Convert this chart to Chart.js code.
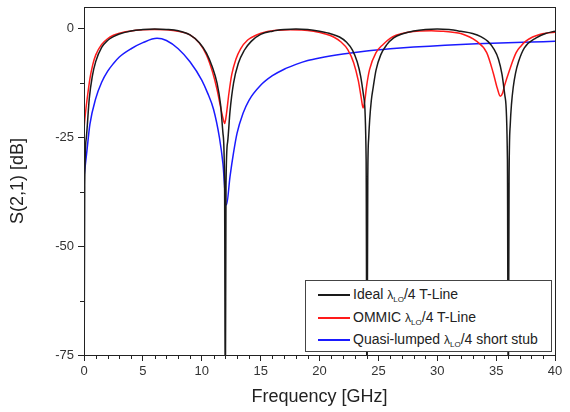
<!DOCTYPE html>
<html>
<head>
<meta charset="utf-8">
<script src="https://cdn.jsdelivr.net/npm/chart.js@4.4.0/dist/chart.umd.min.js"></script>
<style>
body { margin: 0; background: #fff; }
#wrap { position: relative; width: 570px; height: 412px; }
#legend { position: absolute; left: 305px; top: 280px; width: 245px; height: 70px; border: 1px solid #444; background: #fff;
  font: 14px "Liberation Sans", Arial, sans-serif; color: #222; }
.row { position: absolute; left: 12px; height: 16px; line-height: 16px; white-space: nowrap; }
.swatch { display: inline-block; width: 32px; height: 2px; vertical-align: middle; margin-right: 3px; }
.lam { font-size: 12px; }
sub { font-size: 8px; vertical-align: -3px; }
</style>
</head>
<body>
<div id="wrap">
  <canvas id="chart" width="570" height="412"></canvas>
  <div id="legend"></div>
</div>
<script>
// S21
const freqIdeal = [0, 0.06, 0.2, 0.45, 0.7, 1.0, 1.5, 2.0, 2.5, 3.0, 4.0, 5.0, 6.0, 7.0, 8.0, 9.0, 9.8, 10.4, 10.9, 11.3, 11.6, 11.8, 11.94, 12.0, 12.06, 12.2, 12.4, 12.7, 13.1, 13.6, 14.2, 15.0, 16.0, 17.0, 18.0, 19.0, 20.0, 21.0, 21.7, 22.3, 22.8, 23.2, 23.5, 23.75, 23.96, 24.03, 24.1, 24.18, 24.26, 24.4, 24.57, 24.8, 25.2, 25.7, 26.3, 27.0, 28.0, 29.0, 30.0, 31.0, 32.0, 33.0, 33.7, 34.3, 34.8, 35.2, 35.5, 35.75, 35.96, 36.03, 36.1, 36.2, 36.3, 36.45, 36.65, 36.9, 37.4, 38.4, 39.2, 40.0];
const s21Ideal = [-90, -36, -25, -16, -11, -7.5, -4.3, -2.7, -1.8, -1.2, -0.5, -0.2, -0.05, -0.15, -0.45, -1.4, -3.2, -5.6, -8.8, -12.5, -17.5, -24, -36, -90, -36, -26, -19, -12.5, -8, -5, -2.9, -1.3, -0.55, -0.2, -0.05, -0.2, -0.6, -1.2, -1.9, -3.1, -4.9, -7.6, -11, -15.5, -30, -90, -34, -25, -21, -16.5, -13.3, -9.5, -6, -3.7, -2.1, -1.2, -0.5, -0.15, -0.05, -0.2, -0.6, -1.1, -1.8, -2.9, -4.6, -7, -10.5, -15.5, -30, -90, -34, -22, -17.5, -13.5, -10.2, -7.6, -4.4, -2.1, -1.1, -0.55];

const freqOmmic = [0, 0.1, 0.25, 0.5, 0.75, 1.0, 1.5, 2.0, 2.5, 3.0, 4.0, 5.0, 6.0, 7.0, 8.0, 9.0, 9.8, 10.4, 10.9, 11.3, 11.6, 11.8, 11.95, 12.1, 12.3, 12.55, 12.9, 13.3, 13.9, 14.6, 15.5, 16.5, 17.5, 18.5, 19.5, 20.5, 21.2, 21.8, 22.4, 22.9, 23.3, 23.55, 23.7, 23.85, 24.0, 24.25, 24.8, 25.4, 26.0, 26.5, 27.5, 28.5, 29.5, 30.5, 31.3, 32.0, 33.3, 34.2, 34.75, 35.1, 35.35, 35.55, 35.7, 36.15, 36.7, 37.1, 37.55, 38.1, 38.7, 39.3, 40.0];
const s21Ommic = [-23, -20, -16.5, -11.5, -8.2, -6, -3.6, -2.3, -1.5, -1.0, -0.5, -0.25, -0.15, -0.25, -0.6, -1.4, -3.3, -6, -9.8, -14, -18, -20.5, -21.8, -19.5, -15, -10.5, -7, -4.6, -2.6, -1.5, -0.7, -0.35, -0.25, -0.3, -0.6, -1.2, -1.9, -3.0, -4.8, -7.8, -12, -16, -18.2, -16.5, -13.2, -9.4, -5.5, -3.6, -2.2, -1.5, -0.8, -0.5, -0.45, -0.6, -0.8, -1.1, -2.8, -5.5, -10.1, -13.7, -15.5, -14.8, -13.2, -9.4, -5.5, -4, -2.8, -1.9, -1.3, -1, -0.8];

const freqStub = [0, 0.25, 0.5, 1.0, 1.5, 2.0, 2.5, 3.0, 4.0, 5.0, 6.2, 7.0, 8.0, 9.0, 10.0, 10.5, 11.0, 11.5, 11.8, 12.1, 12.4, 12.7, 13.0, 13.5, 14.0, 15.0, 16.0, 17.0, 18.0, 19.0, 20.0, 22.0, 24.0, 26.0, 28.0, 30.0, 32.0, 34.0, 36.0, 38.0, 40.0];
const s21Stub = [-34, -28, -22, -16, -12.3, -9.8, -8, -6.5, -4.6, -3.2, -2.2, -2.7, -4.6, -7.6, -11.8, -14.8, -18.5, -25, -31, -40.5, -34, -28.5, -24, -19.5, -16.5, -13, -10.8, -9.3, -8.2, -7.3, -6.7, -5.8, -5.1, -4.6, -4.2, -3.9, -3.6, -3.4, -3.2, -3.05, -2.9];

const seriesLabels = ['Ideal', 'OMMIC', 'Quasi-lumped'];
const seriesSuffix = ['/4 T-Line', '/4 T-Line', '/4 short stub'];
const seriesColors = ['#1a1a1a', '#ff1a1a', '#1a1aff'];

const xTicks = [0, 5, 10, 15, 20, 25, 30, 35, 40];
const yTicks = [0, -25, -50, -75];
const xMinorStep = 1;
const yMinorStep = 12.5;

function toPoints(xs, ys) {
    return xs.map((x, i) => ({ x: x, y: ys[i] }));
}

// frame on top/right plus short minor ticks
const framePlugin = {
    id: 'frame',
    afterDraw(chart) {
        const { ctx, chartArea: a, scales } = chart;
        ctx.save();
        ctx.strokeStyle = '#222';
        ctx.lineWidth = 1;
        ctx.strokeRect(a.left + 0.5, a.top + 0.5, a.right - a.left, a.bottom - a.top);
        ctx.beginPath();
        for (let v = scales.x.min; v <= scales.x.max; v += xMinorStep) {
            if (xTicks.includes(v)) continue;
            const px = Math.round(scales.x.getPixelForValue(v)) + 0.5;
            ctx.moveTo(px, a.bottom);
            ctx.lineTo(px, a.bottom + 4);
        }
        for (let v = -75; v <= 0; v += yMinorStep) {
            if (yTicks.includes(v)) continue;
            const py = Math.round(scales.y.getPixelForValue(v)) + 0.5;
            ctx.moveTo(a.left, py);
            ctx.lineTo(a.left - 4, py);
        }
        ctx.stroke();
        ctx.restore();
    }
};

const datasets = [
    { data: toPoints(freqIdeal, s21Ideal) },
    { data: toPoints(freqOmmic, s21Ommic) },
    { data: toPoints(freqStub, s21Stub) }
].map((d, i) => Object.assign(d, {
    label: seriesLabels[i],
    borderColor: seriesColors[i],
    borderWidth: 1.5,
    pointRadius: 0,
    fill: false,
    cubicInterpolationMode: 'monotone'
}));

const tickFont = { family: '"Liberation Sans", Arial, sans-serif', size: 13 };
const titleFont = { family: '"Liberation Sans", Arial, sans-serif', size: 18 };

new Chart(document.getElementById('chart').getContext('2d'), {
    type: 'line',
    data: { datasets: datasets },
    options: {
        responsive: false,
        animation: false,
        layout: { padding: { top: 0, right: 15, left: 0, bottom: 0 } },
        plugins: { legend: { display: false }, tooltip: { enabled: false } },
        scales: {
            x: {
                type: 'linear', min: 0, max: 40,
                afterBuildTicks: s => { s.ticks = xTicks.map(v => ({ value: v })); },
                afterFit: s => { s.height = 57; },
                grid: { drawOnChartArea: false, tickLength: 6, color: '#222' },
                border: { color: '#222' },
                ticks: { font: tickFont, color: '#333', padding: 3, maxRotation: 0 },
                title: { display: true, text: 'Frequency [GHz]', font: titleFont, color: '#222', padding: { top: 0, bottom: 4 } }
            },
            y: {
                type: 'linear', min: -75, max: 5,
                afterBuildTicks: s => { s.ticks = yTicks.map(v => ({ value: v })); },
                afterFit: s => { s.width = 84; s.paddingTop = 7; },
                grid: { drawOnChartArea: false, tickLength: 6, color: '#222' },
                border: { color: '#222' },
                ticks: { font: tickFont, color: '#333', padding: 4 },
                title: { display: true, text: 'S(2,1) [dB]', font: titleFont, color: '#222', padding: { top: 7, bottom: 0 } }
            }
        }
    },
    plugins: [framePlugin]
});

// legend with subscripted lambda
const legend = document.getElementById('legend');
seriesLabels.forEach((name, i) => {
    const row = document.createElement('div');
    row.className = 'row';
    row.style.top = (5 + i * 22.5) + 'px';
    row.innerHTML = '<span class="swatch" style="background:' + seriesColors[i] + '"></span>' +
        name + ' <span class="lam">λ</span><sub>LO</sub>' + seriesSuffix[i];
    legend.appendChild(row);
});
</script>
</body>
</html>
